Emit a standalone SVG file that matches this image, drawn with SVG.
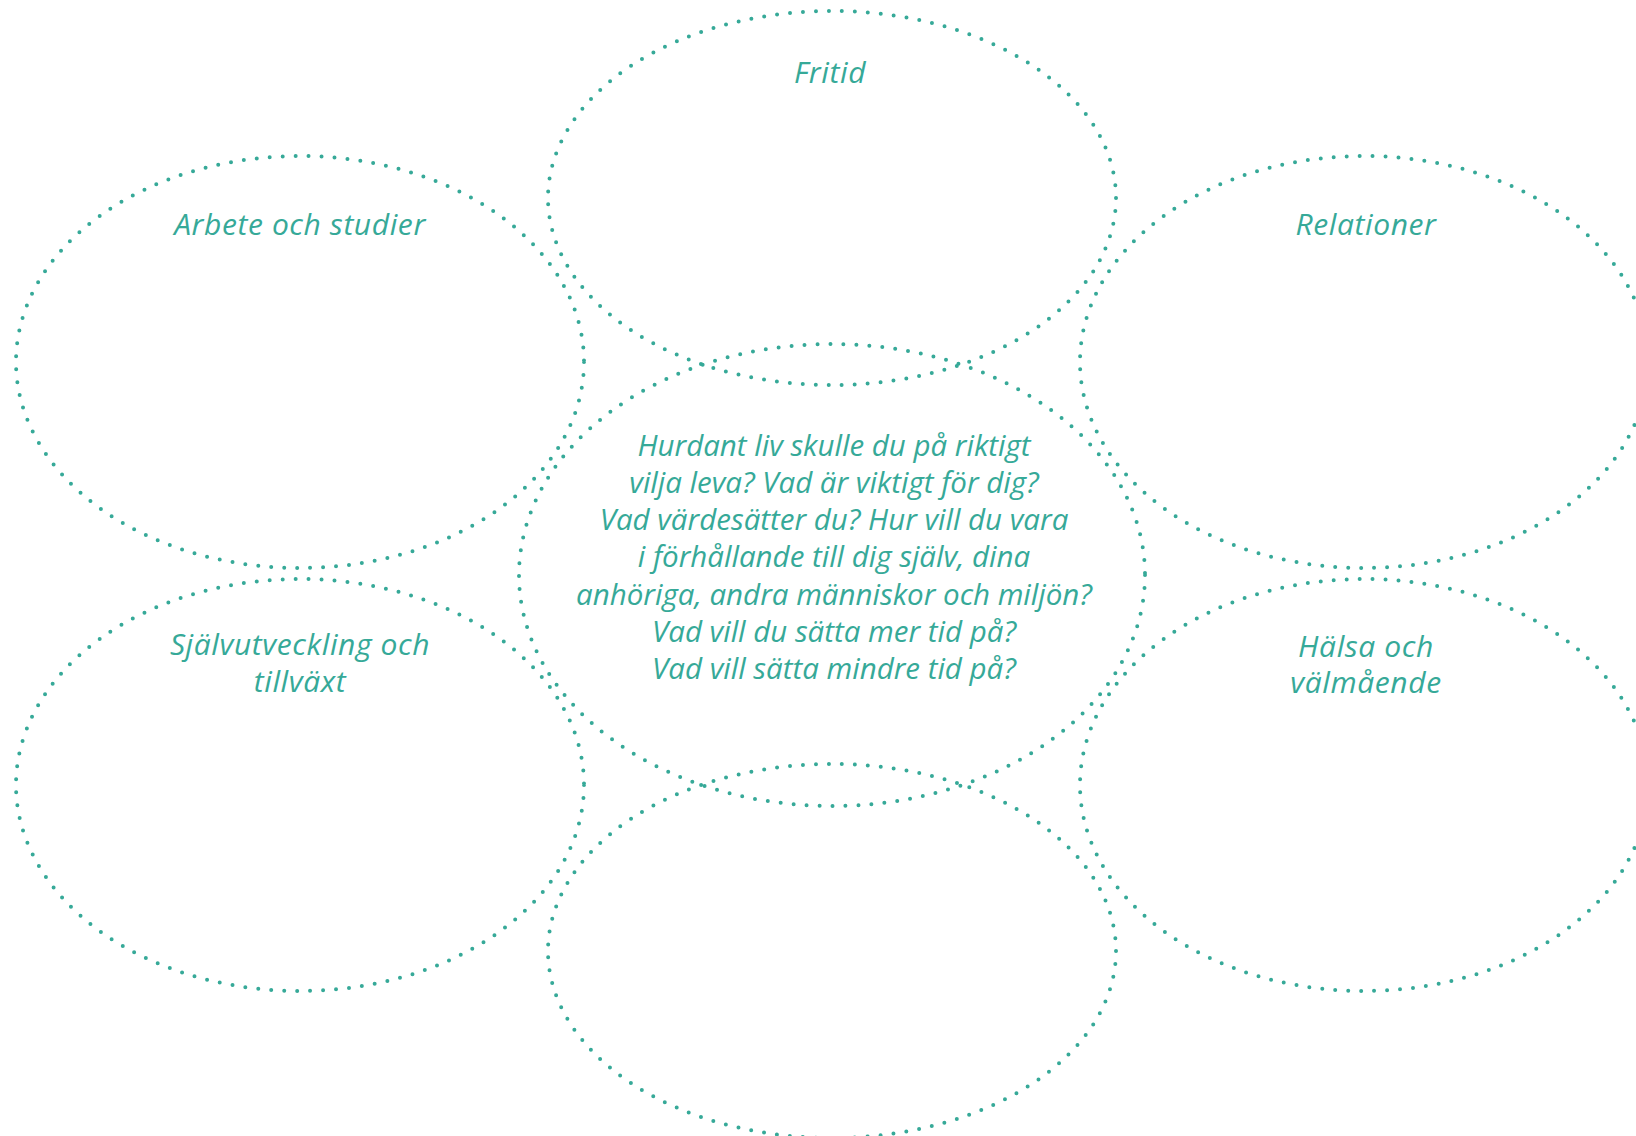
<svg xmlns="http://www.w3.org/2000/svg" width="1636" height="1136" viewBox="0 0 1636 1136">
<style>
.ring{fill:none;stroke:#36A998;stroke-width:4;stroke-linecap:round;stroke-dasharray:0 13}
.lbl{font-family:"Open Sans",Lato,"DejaVu Sans",sans-serif;font-style:italic;font-size:30px;letter-spacing:0.6px;fill:#36A998;text-anchor:middle}
.q{font-family:"Open Sans",Lato,"DejaVu Sans",sans-serif;font-style:italic;font-size:29.5px;fill:#36A998;text-anchor:middle}
</style>
<rect width="1636" height="1136" fill="#ffffff"/>
<g id="fritid"><ellipse class="ring" cx="832" cy="198" rx="284" ry="187"/><text class="lbl" x="830" y="83">Fritid</text></g>
<g id="arbete"><ellipse class="ring" cx="300" cy="362" rx="284" ry="206"/><text class="lbl" x="300" y="235">Arbete och studier</text></g>
<g id="relationer"><ellipse class="ring" cx="1364" cy="362" rx="284" ry="206"/><text class="lbl" x="1366" y="235">Relationer</text></g>
<g id="center"><ellipse class="ring" cx="832" cy="575" rx="313" ry="231"/>
<text class="q" x="834" y="456">Hurdant liv skulle du på riktigt</text>
<text class="q" x="834" y="493">vilja leva? Vad är viktigt för dig?</text>
<text class="q" x="834" y="530">Vad värdesätter du? Hur vill du vara</text>
<text class="q" x="834" y="567">i förhållande till dig själv, dina</text>
<text class="q" x="834" y="605">anhöriga, andra människor och miljön?</text>
<text class="q" x="834" y="642">Vad vill du sätta mer tid på?</text>
<text class="q" x="834" y="679">Vad vill sätta mindre tid på?</text>
</g>
<g id="sjalvutveckling"><ellipse class="ring" cx="300" cy="785" rx="284" ry="206"/><text class="lbl" x="300" y="655">Självutveckling och</text><text class="lbl" x="300" y="692">tillväxt</text></g>
<g id="halsa"><ellipse class="ring" cx="1364" cy="785" rx="284" ry="206"/><text class="lbl" x="1366" y="657">Hälsa och</text><text class="lbl" x="1366" y="693">välmående</text></g>
<g id="bottom"><ellipse class="ring" cx="832" cy="951" rx="284" ry="187"/></g>
</svg>
